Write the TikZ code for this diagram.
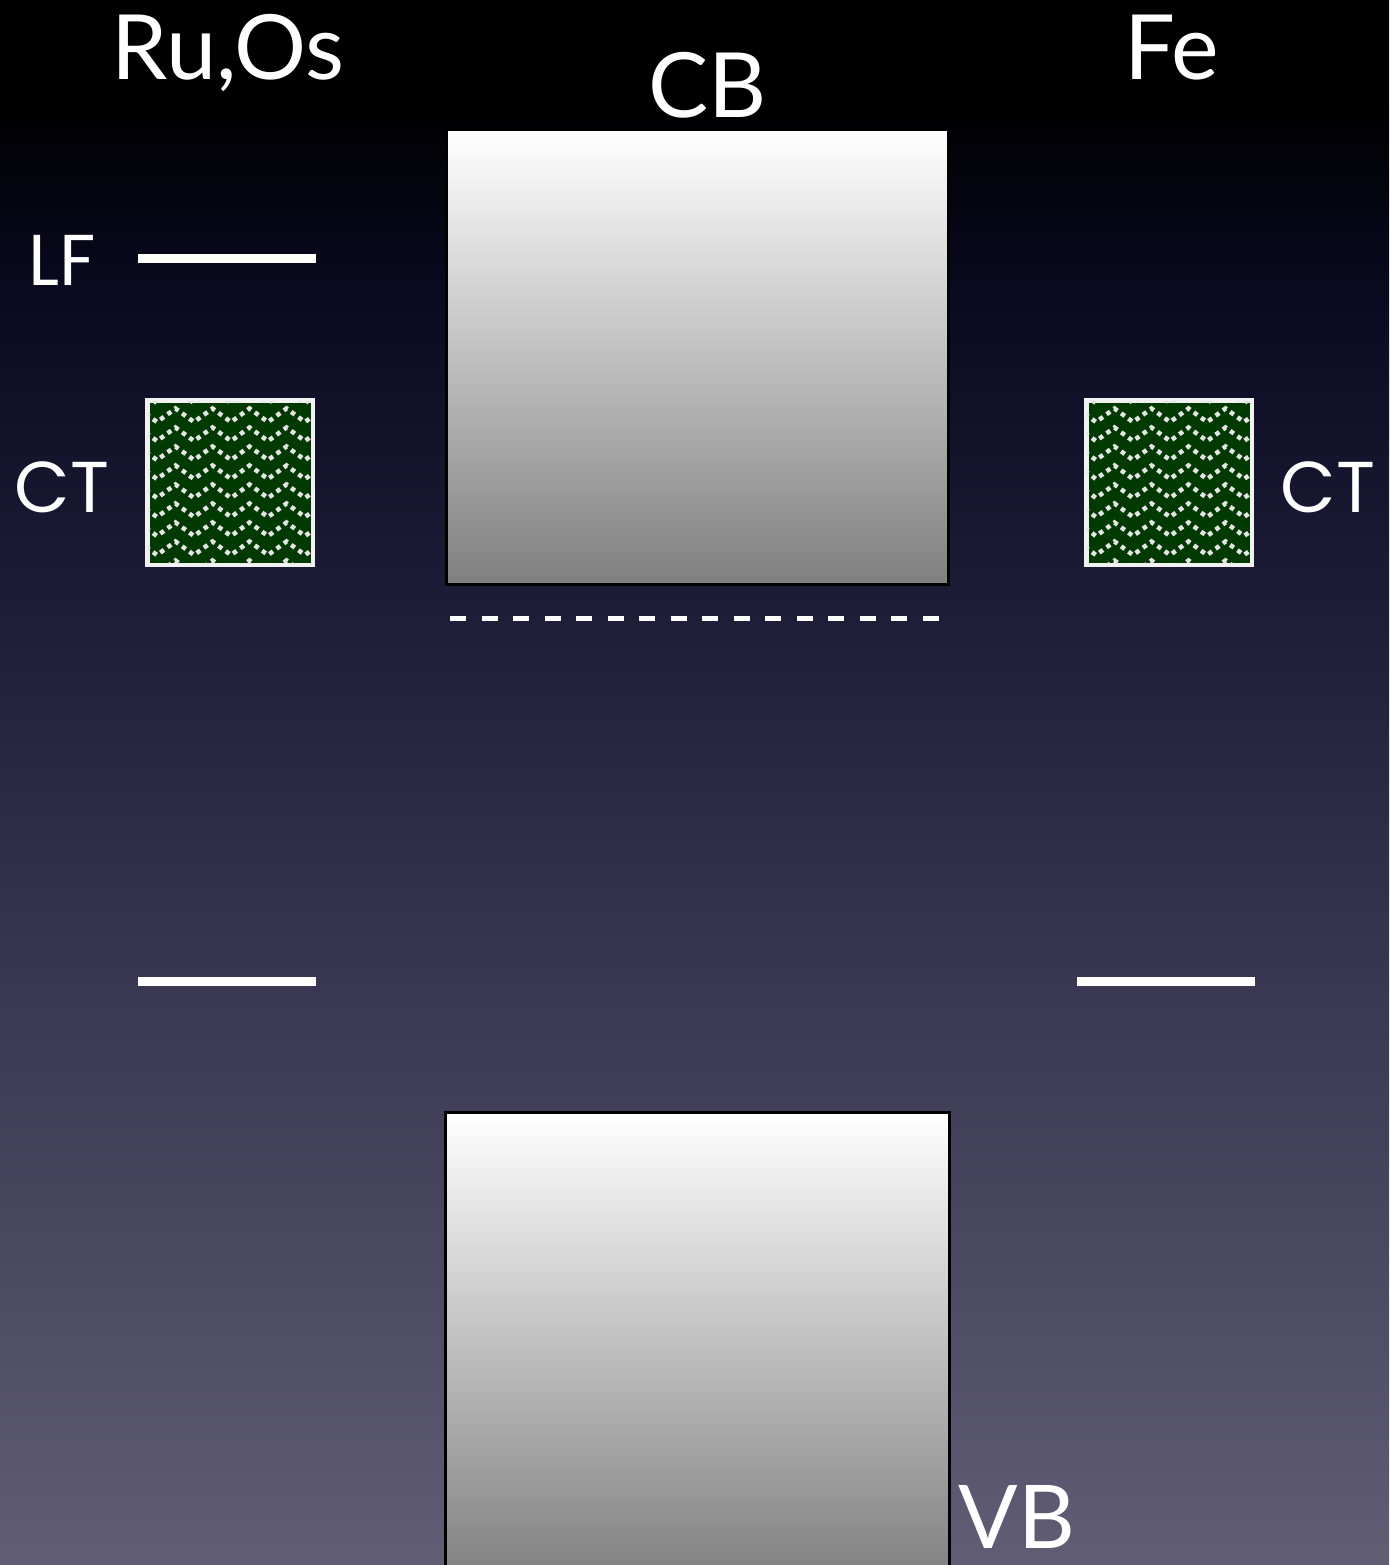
\documentclass[tikz,border=0pt]{standalone}
\usepackage{fontspec}
\usetikzlibrary{calc}
\setmainfont{Lato}
\newfontfamily\labfont{Poppins}
\definecolor{bgA}{HTML}{605D75}
\definecolor{bgB}{HTML}{3A3852}
\definecolor{bgC}{HTML}{1D1C36}
\definecolor{bgD}{HTML}{0A0A22}
\definecolor{bgE}{HTML}{000000}
\definecolor{ctgreen}{HTML}{003A00}
\pgfdeclareverticalshading{bgshade}{100bp}{color(0bp)=(bgA); color(25bp)=(bgA); color(43bp)=(bgB); color(56bp)=(bgC); color(65.4bp)=(bgD); color(71.8bp)=(bgE); color(100bp)=(bgE)}
\tikzset{
  level/.style={draw=white, line width=9pt},
  ctbox/.style={draw=white!90!gray, line width=3pt, fill=ctgreen, minimum width=164pt, minimum height=163pt, inner sep=0pt},
  zig/.style={gray!20, line width=4.5pt, dash pattern=on 4.5pt off 4.5pt},
  title/.style={text=white, font=\fontsize{90}{90}\selectfont, anchor=base, inner sep=0pt},
  lab/.style={text=white, font=\labfont\fontsize{72}{72}\selectfont, anchor=base, inner sep=0pt}
}
\begin{document}
\begin{tikzpicture}[x=1pt, y=-1pt]
\useasboundingbox (0,0) rectangle (1389,1565);
\shade[shading=bgshade] (0,0) rectangle (1389,1565);
\clip (0,0) rectangle (1389,1565);
% titles
\node[title] (ruos) at (228,80) {Ru,Os};
\node[title] (cblab) at (708,118) {CB};
\node[title] (fe) at (1172,80) {Fe};
% bands
\draw[top color=white, bottom color=gray, draw=black, line width=3pt] (446,130) rectangle (948,584);
\node[inner sep=0pt, minimum width=502pt, minimum height=454pt] (cb) at (697,357) {};
\draw[top color=white, bottom color=gray, draw=black, line width=3pt] (445,1112) rectangle (949,1580);
\node[inner sep=0pt, minimum width=504pt, minimum height=468pt] (vb) at (697,1346) {};
\node[title, font=\fontsize{88}{88}\selectfont] (vblab) at (1017,1548) {VB};
% dashed level
\coordinate (dl) at (450,618);
\coordinate (dr) at (946,618);
\draw[white, line width=5pt, dash pattern=on 16pt off 15.5pt] (dl) -- (dr);
% LF level
\node[lab] (lf) at (62,285) {LF};
\coordinate (lfa) at (138,258);
\coordinate (lfb) at (316,258);
\draw[level] (lfa) -- (lfb);
% lower levels
\coordinate (la) at (138,981);
\coordinate (lb) at (316,981);
\draw[level] (la) -- (lb);
\coordinate (ra) at (1077,981);
\coordinate (rb) at (1255,981);
\draw[level] (ra) -- (rb);
% CT boxes
\node[ctbox] (ctl) at (230,482.5) {};
\node[ctbox] (ctr) at (1169,482.5) {};
\foreach \bx in {ctl, ctr}{
  \begin{scope}
    \clip ($(\bx.south west)+(1.5,-1.5)$) rectangle ($(\bx.north east)+(-1.5,1.5)$);
    \foreach \r in {0,...,9}{
      \draw[zig] ($(\bx.north west)+(-8,{\r*19-10})$) \foreach \k in {0,...,5}{ -- ++(18.5,13.5) -- ++(18.5,-13.5)};
    }
  \end{scope}
  \draw[white!90!gray, line width=3pt] (\bx.south west) rectangle (\bx.north east);
}
\node[lab] (ctlab1) at (62,512) {CT};
\node[lab] (ctlab2) at (1328,512) {CT};
\end{tikzpicture}
\end{document}
